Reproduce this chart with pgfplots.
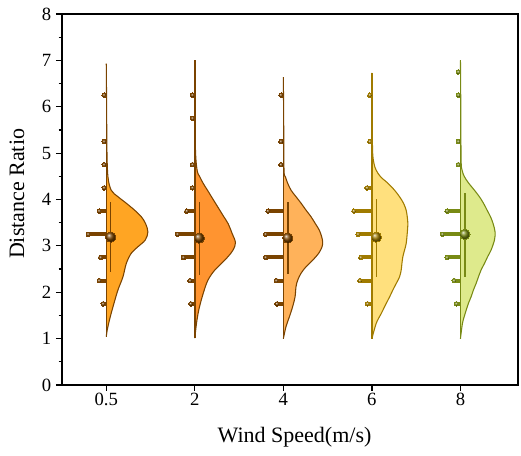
\documentclass[border=0pt]{standalone}
\usepackage{fontspec}
\setmainfont{Liberation Serif}
\usepackage{pgfplots}
\usepackage{pgfplotstable}
\pgfplotsset{compat=1.18}

\definecolor{fA}{HTML}{FFA523}
\definecolor{fB}{HTML}{FF9430}
\definecolor{fC}{HTML}{FFB25A}
\definecolor{fD}{HTML}{FFE07D}
\definecolor{fE}{HTML}{DEEA8C}
\definecolor{dA}{HTML}{7A4300}
\definecolor{dD}{HTML}{A07B00}
\definecolor{dE}{HTML}{788A14}

% violin half-widths (x units) per group
\pgfplotstableread{
y w
1.04 0
1.19 0.011
1.47 0.045
1.76 0.087
2.05 0.132
2.33 0.188
2.62 0.226
2.84 0.282
2.98 0.357
3.125 0.44
3.30 0.47
3.48 0.444
3.63 0.395
3.77 0.32
3.92 0.226
4.06 0.132
4.20 0.056
4.49 0.019
5.06 0.0075
6.00 0.004
6.93 0
}\vA
\pgfplotstableread{
y w
1.01 0
1.33 0.019
1.62 0.045
1.90 0.083
2.19 0.132
2.33 0.169
2.48 0.226
2.62 0.301
2.77 0.376
2.91 0.432
3.07 0.459
3.27 0.421
3.48 0.376
3.63 0.327
3.77 0.282
3.92 0.233
4.06 0.188
4.20 0.143
4.35 0.094
4.49 0.056
4.63 0.026
5.06 0.0075
6.00 0.004
7.00 0
}\vB
\pgfplotstableread{
y w
1.00 0
1.26 0.03
1.47 0.068
1.69 0.105
1.90 0.132
2.12 0.143
2.26 0.162
2.41 0.2
2.55 0.256
2.69 0.331
2.84 0.399
2.98 0.437
3.09 0.444
3.20 0.432
3.34 0.406
3.48 0.361
3.63 0.312
3.77 0.256
3.92 0.2
4.06 0.143
4.20 0.087
4.35 0.049
4.49 0.023
4.63 0.0075
5.60 0.004
6.64 0
}\vC
\pgfplotstableread{
y w
1.00 0
1.33 0.049
1.54 0.105
1.76 0.162
1.90 0.2
2.05 0.237
2.19 0.275
2.33 0.312
2.48 0.331
2.62 0.339
2.77 0.35
2.91 0.369
3.05 0.387
3.27 0.399
3.48 0.406
3.63 0.399
3.77 0.387
3.92 0.357
4.06 0.312
4.20 0.256
4.35 0.181
4.49 0.098
4.63 0.049
4.78 0.023
5.06 0.0075
5.90 0.004
6.73 0
}\vD
\pgfplotstableread{
y w
1.00 0
1.33 0.023
1.54 0.053
1.76 0.09
1.90 0.12
2.05 0.147
2.19 0.177
2.33 0.203
2.48 0.233
2.62 0.271
2.77 0.308
2.91 0.346
3.125 0.384
3.30 0.391
3.48 0.369
3.63 0.339
3.77 0.301
3.92 0.26
4.06 0.214
4.20 0.158
4.35 0.094
4.49 0.045
4.63 0.019
4.85 0.0075
6.00 0.004
7.00 0
}\vE

% histogram bars: bin centre y, length L (x units, to ball centre)
\pgfplotstableread{
y L
6.25 0.023
5.25 0.023
4.75 0.023
4.25 0.023
3.75 0.079
3.25 0.203
2.75 0.063
2.25 0.079
1.75 0.034
}\bA
\pgfplotstableread{
y L
6.25 0.026
5.75 0.026
4.75 0.026
4.25 0.026
3.75 0.09
3.25 0.195
2.75 0.128
2.25 0.053
1.75 0.045
}\bB
\pgfplotstableread{
y L
6.25 0.026
5.25 0.026
4.75 0.026
3.75 0.173
3.25 0.2
2.75 0.2
2.25 0.079
1.75 0.071
}\bC
\pgfplotstableread{
y L
6.25 0.023
5.25 0.023
4.25 0.053
3.75 0.203
3.25 0.155
2.75 0.124
2.25 0.135
1.75 0.049
}\bD
\pgfplotstableread{
y L
6.75 0.023
6.25 0.023
5.25 0.023
4.75 0.023
3.75 0.15
3.25 0.203
2.75 0.15
2.25 0.071
1.75 0.045
}\bE

\newcommand{\vgroup}[5]{%
\addplot[fill=#4, draw=#5, line width=0.8pt, smooth, tension=0.55] table[x expr=\thisrow{w}+#1, y=y]{#2};
\addplot[draw=#5, line width=1.1pt] table[x expr=#1, y=y]{#2};
\addplot[draw=none, mark=none, error bars/.cd, x dir=minus, x explicit, error mark=none,
  error bar style={line width=3pt, draw=#5}] table[x expr=#1, y=y, x error=L]{#3};
\addplot[only marks, color=#5, mark=ball, mark size=1.7pt, ball color=#5, mark options={draw=#5, line width=0pt}] table[x expr=#1-\thisrow{L}, y=y]{#3};
}
\newcommand{\meanball}[5]{% x, mean, plus, minus, colour
\addplot[only marks, color=#5, mark=ball, mark size=3.9pt, ball color=#5, mark options={draw=#5, line width=0pt},
  error bars/.cd, y dir=both, y explicit, error mark=none, error bar style={line width=1.1pt, draw=#5}]
  coordinates {(#1,#2) += (0,#3) -= (0,#4)};
}

\begin{document}
\begin{tikzpicture}
\begin{axis}[
  scale only axis, width=342pt, height=278.25pt,
  xmin=-0.5, xmax=4.65, ymin=0, ymax=8,
  xtick={0,1,2,3,4}, xticklabels={0.5,2,4,6,8},
  ytick={0,1,...,8}, minor y tick num=1,
  xtick pos=bottom, ytick pos=left, tick align=outside,
  major tick length=4.5pt, minor tick length=2.5pt,
  axis line style={line width=0.9pt},
  tick style={line width=0.9pt, black},
  tick label style={font=\fontsize{14}{16}\selectfont},
  xticklabel style={yshift=2pt},
  label style={font=\fontsize{16.5}{19}\selectfont},
  /pgf/number format/assume math mode=true,
  xlabel={Wind Speed(m/s)}, ylabel={Distance Ratio},
  xlabel style={at={(axis description cs:0.51,-0.156)}, anchor=base},
  ylabel style={at={(axis description cs:-0.0987,0.515)}, anchor=center},
]
\vgroup{0}{\vA}{\bA}{fA}{dA}
\vgroup{1}{\vB}{\bB}{fB}{dA}
\vgroup{2}{\vC}{\bC}{fC}{dA}
\vgroup{3}{\vD}{\bD}{fD}{dD}
\vgroup{4}{\vE}{\bE}{fE}{dE}

\meanball{0.05}{3.19}{0.75}{0.75}{dA}
\meanball{1.05}{3.17}{0.78}{0.80}{dA}
\meanball{2.05}{3.17}{0.78}{0.78}{dA}
\meanball{3.05}{3.19}{0.83}{0.86}{dD}
\meanball{4.05}{3.25}{0.88}{0.92}{dE}
\end{axis}
\path ([xshift=-46.5pt, yshift=-53.25pt]current axis.south west) rectangle ([xshift=2.25pt, yshift=10.5pt]current axis.north east);
\end{tikzpicture}
\end{document}
